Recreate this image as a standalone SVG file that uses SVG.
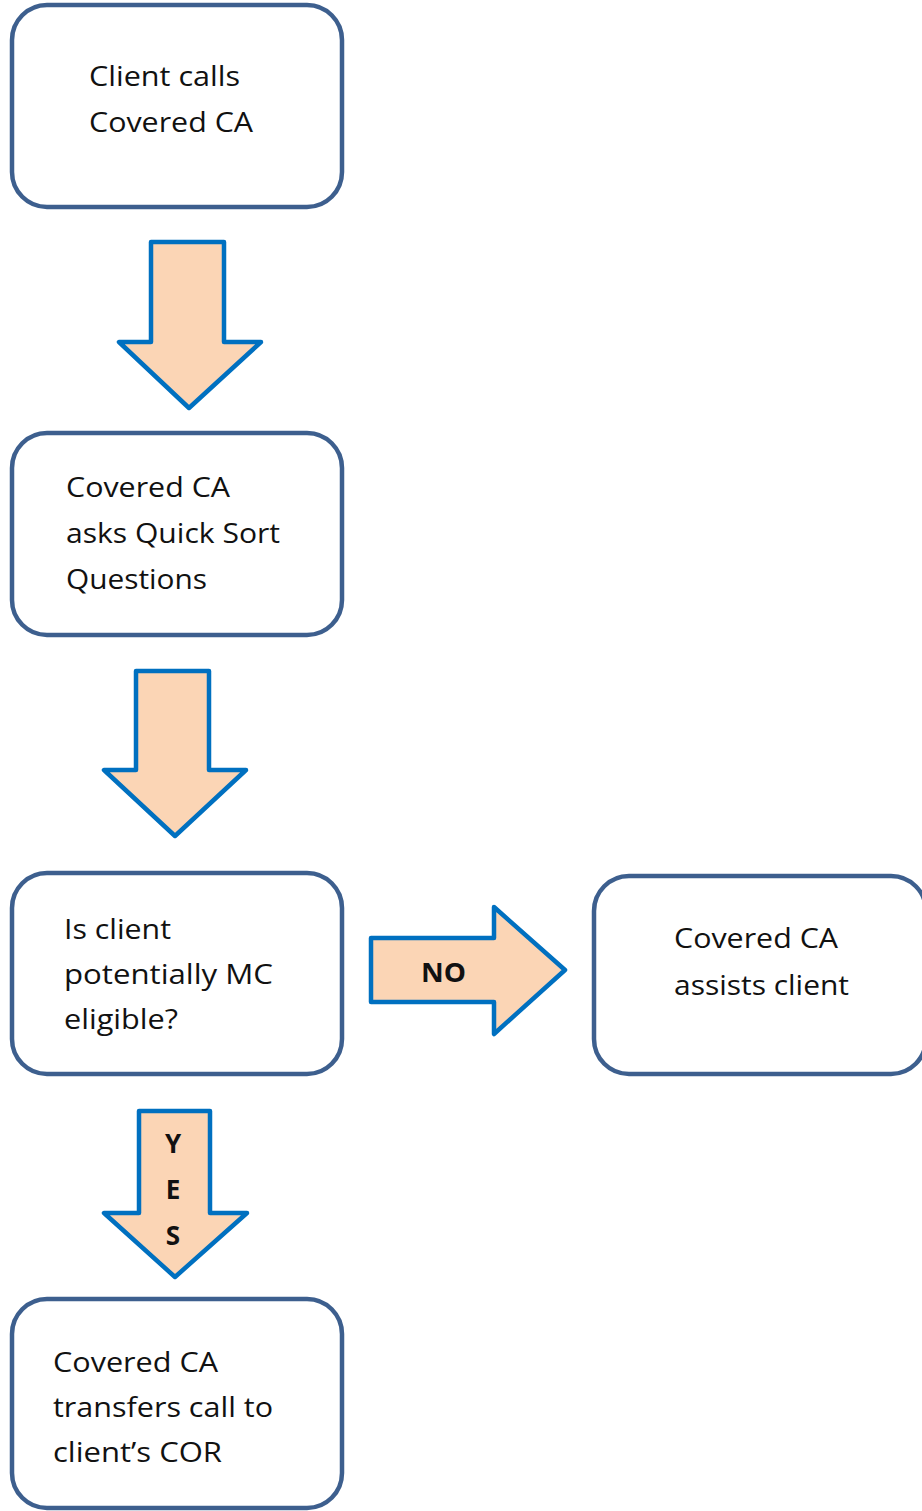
<svg xmlns="http://www.w3.org/2000/svg" width="922" height="1511" viewBox="0 0 922 1511">
<style>
.box{fill:#ffffff;stroke:#3D5F8E;stroke-width:4.5}
.arr{fill:#FBD5B5;stroke:#0070C0;stroke-width:4.5;stroke-linejoin:round}
.t{font-family:"Open Sans","Liberation Sans",sans-serif;font-size:26.5px;fill:#111111}
.b{font-family:"Open Sans","Liberation Sans",sans-serif;font-size:26px;font-weight:bold;fill:#111111}
</style>
<rect width="922" height="1511" fill="#ffffff"/>
<g id="connectors">
<path class="arr" d="M151,242 L224,242 L224,342 L261,342 L189,408 L119,342 L151,342 Z"/>
<path class="arr" d="M136,671 L209,671 L209,770 L246,770 L175,836 L104,770 L136,770 Z"/>
<g id="no-arrow">
<path class="arr" d="M371,938 L494,938 L494,907 L565,970 L494,1034 L494,1002 L371,1002 Z"/>
<text class="b" x="421" y="982" textLength="45" lengthAdjust="spacingAndGlyphs">NO</text>
</g>
<g id="yes-arrow">
<path class="arr" d="M139,1111 L210,1111 L210,1213 L247,1213 L175,1277 L104,1213 L139,1213 Z"/>
<text class="b" x="173" y="1153" text-anchor="middle">Y</text>
<text class="b" x="173" y="1199" text-anchor="middle">E</text>
<text class="b" x="173" y="1245" text-anchor="middle">S</text>
</g>
</g>
<g id="n1">
<rect class="box" x="12" y="5" width="330" height="202" rx="35" ry="35"/>
<text class="t" x="89" y="86" textLength="151" lengthAdjust="spacingAndGlyphs">Client calls</text>
<text class="t" x="89" y="132" textLength="164" lengthAdjust="spacingAndGlyphs">Covered CA</text>
</g>
<g id="n2">
<rect class="box" x="12" y="433" width="330" height="202" rx="35" ry="35"/>
<text class="t" x="66" y="497" textLength="164" lengthAdjust="spacingAndGlyphs">Covered CA</text>
<text class="t" x="66" y="543" textLength="214" lengthAdjust="spacingAndGlyphs">asks Quick Sort</text>
<text class="t" x="66" y="589" textLength="141" lengthAdjust="spacingAndGlyphs">Questions</text>
</g>
<g id="n3">
<rect class="box" x="12" y="873" width="330" height="201" rx="35" ry="35"/>
<text class="t" x="64" y="939" textLength="107" lengthAdjust="spacingAndGlyphs">Is client</text>
<text class="t" x="64" y="984" textLength="209" lengthAdjust="spacingAndGlyphs">potentially MC</text>
<text class="t" x="64" y="1029" textLength="114" lengthAdjust="spacingAndGlyphs">eligible?</text>
</g>
<g id="n4">
<rect class="box" x="594" y="876" width="332" height="198" rx="35" ry="35"/>
<text class="t" x="674" y="948" textLength="164" lengthAdjust="spacingAndGlyphs">Covered CA</text>
<text class="t" x="674" y="995" textLength="175" lengthAdjust="spacingAndGlyphs">assists client</text>
</g>
<g id="n5">
<rect class="box" x="12" y="1299" width="330" height="209" rx="35" ry="35"/>
<text class="t" x="53" y="1372" textLength="165" lengthAdjust="spacingAndGlyphs">Covered CA</text>
<text class="t" x="53" y="1417" textLength="220" lengthAdjust="spacingAndGlyphs">transfers call to</text>
<text class="t" x="53" y="1462" textLength="169" lengthAdjust="spacingAndGlyphs">client’s COR</text>
</g>
</svg>
